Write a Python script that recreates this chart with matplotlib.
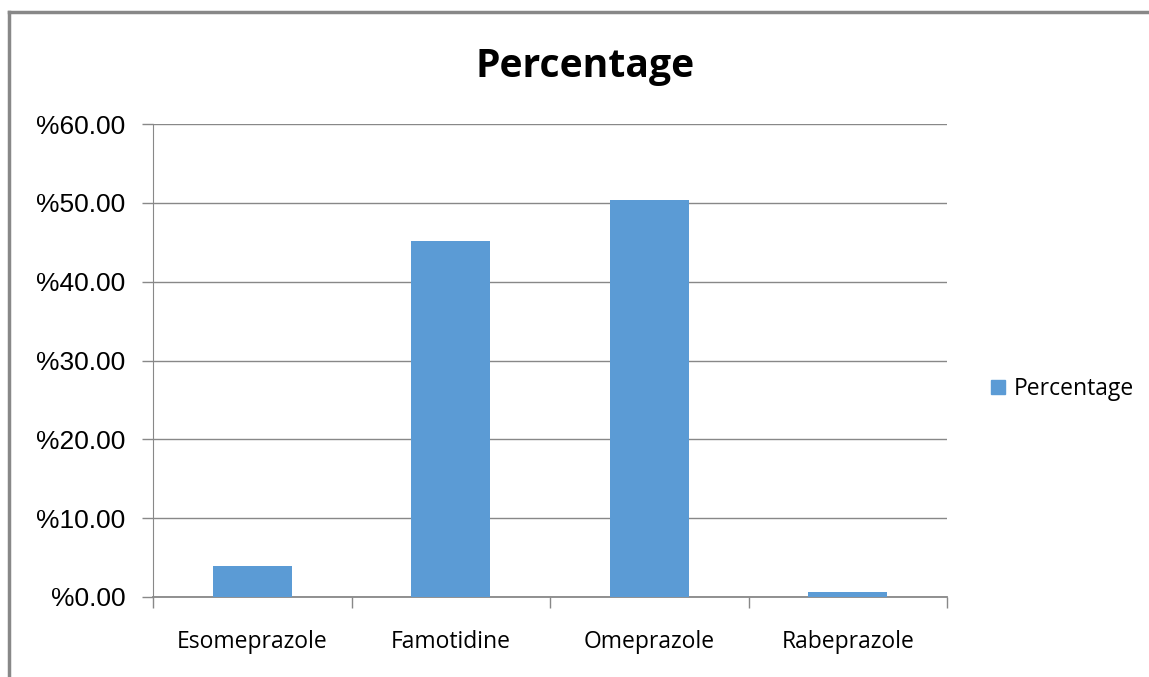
import matplotlib.pyplot as plt
from matplotlib.lines import Line2D
from matplotlib.patches import Patch
import numpy as np

# data
drugs = ['Esomeprazole', 'Famotidine', 'Omeprazole', 'Rabeprazole']
percent = [3.9, 45.1, 50.4, 0.6]
yticks = [0, 10, 20, 30, 40, 50, 60]

W, H = 1149, 677
fig = plt.figure(figsize=(W / 100, H / 100), dpi=100)
ax = fig.add_axes([153 / W, 1 - 597 / H, (947 - 153) / W, (597 - 124) / H])

x = np.arange(len(drugs))
ax.bar(x, percent, width=0.4, color='#5B9BD5', zorder=3, label='Percentage')

ax.set_xlim(-0.5, len(drugs) - 0.5)
ax.set_ylim(0, 60)
ax.set_yticks(yticks)
ax.set_yticklabels(['%{:.2f}'.format(v) for v in yticks],
                   fontsize=19, family='Liberation Sans')
ax.set_xticks(x)
ax.set_xticklabels(drugs, fontsize=16.5, family='Open Sans')
ax.set_xticks(np.arange(len(drugs) + 1) - 0.5, minor=True)
ax.tick_params(axis='x', which='major', length=0, pad=24)
ax.tick_params(axis='x', which='minor', length=8, color='#888888', width=1)
ax.tick_params(axis='y', length=8, color='#888888', width=1, pad=12)

ax.grid(axis='y', color='#888888', linewidth=1, zorder=0)
for s in ['top', 'right']:
    ax.spines[s].set_visible(False)
ax.spines['left'].set_color('#888888')
ax.spines['bottom'].set_color('#888888')
ax.spines['bottom'].set_linewidth(1.3)

fig.text(585 / W, 1 - 77 / H, 'Percentage', ha='center', va='baseline',
         fontsize=28.2, fontweight='bold', family='Open Sans')

handles = [Patch(color='#5B9BD5', label='Percentage')]
fig.legend(handles=handles, loc='center left', bbox_to_anchor=(991 / W, 1 - 389 / H),
           frameon=False, borderpad=0, borderaxespad=0,
           prop={'family': 'Open Sans', 'size': 16.5},
           handlelength=0.6, handleheight=0.6, handletextpad=0.4)

# outer chart border (top and left edges visible)
fig.add_artist(Line2D([9 / W, 1], [1 - 12 / H, 1 - 12 / H], color='#888888', lw=2.5))
fig.add_artist(Line2D([9 / W, 9 / W], [0, 1 - 12 / H], color='#888888', lw=2.5))

fig.savefig('out.png', dpi=100)
